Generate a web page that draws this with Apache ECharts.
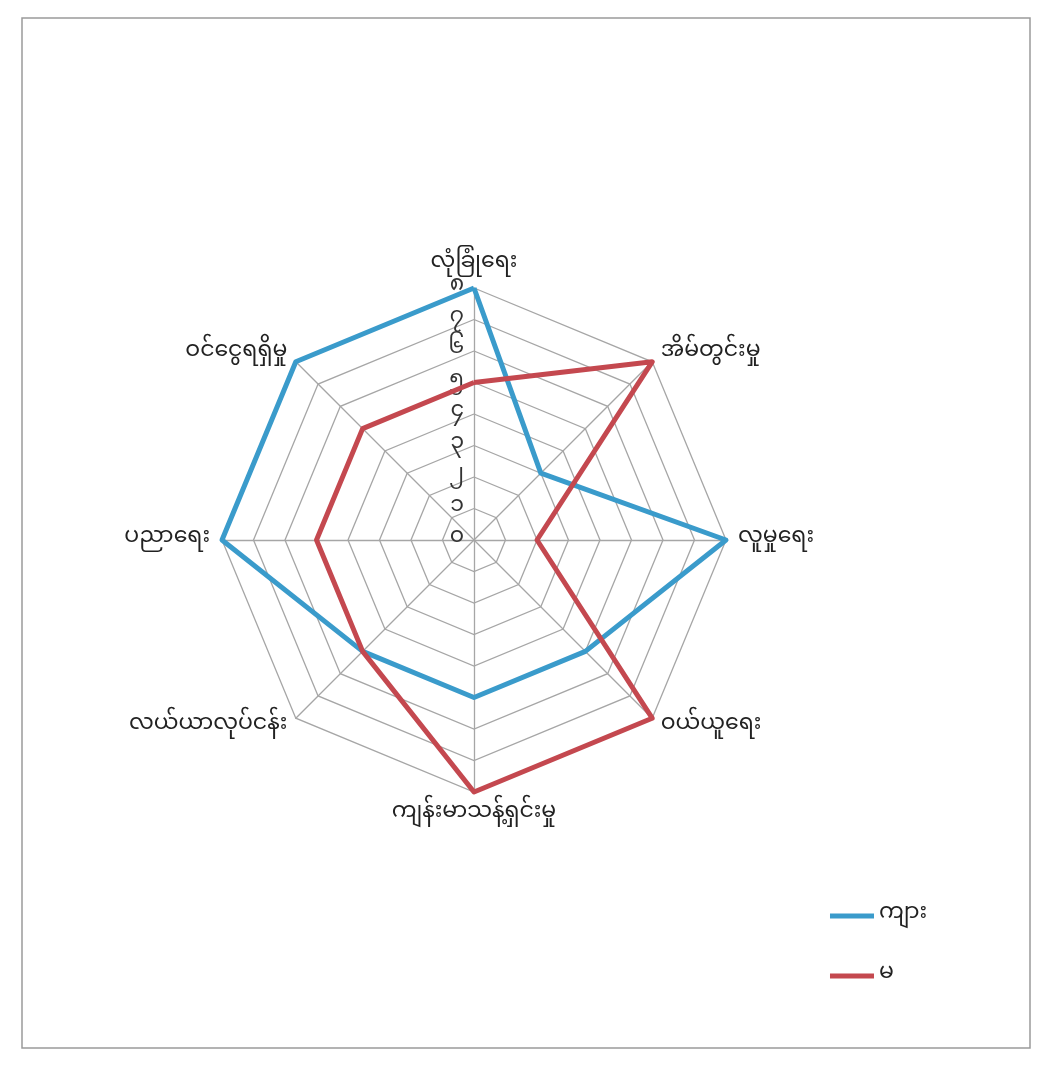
<!DOCTYPE html>
<html>
<head>
<meta charset="utf-8">
<script src="https://cdn.jsdelivr.net/npm/echarts@6/dist/echarts.min.js"></script>
<style>
html,body{margin:0;padding:0;background:#fff;}
#chart{width:1052px;height:1076px;}
</style>
</head>
<body>
<div id="chart"></div>
<script>
// Indicators listed counterclockwise starting from the top
const categories = ['လုံခြုံရေး','ဝင်ငွေရရှိမှု','ပညာရေး','လယ်ယာလုပ်ငန်း','ကျန်းမာသန့်ရှင်းမှု','ဝယ်ယူရေး','လူမှုရေး','အိမ်တွင်းမှု'];
const maleValues = [8, 8, 8, 5, 5, 5, 8, 3];
const femaleValues = [5, 5, 5, 5, 8, 8, 2, 8];
const seriesNames = ['ကျား','မ'];
const tickLabels = ['၀','၁','၂','၃','၄','၅','၆','၇','၈'];
const maxValue = 8;

const FONT = '"Noto Sans Myanmar","Padauk","Myanmar Text","Noto Sans",sans-serif';
const chart = echarts.init(document.getElementById('chart'), null, {renderer:'canvas'});
const option = {
  backgroundColor:'#ffffff',
  textStyle:{fontFamily:FONT},
  graphic:[{
    type:'rect', shape:{x:22,y:18,width:1008,height:1030},
    style:{fill:'none',stroke:'#9a9a9a',lineWidth:1.5}, silent:true
  }],
  legend:{
    orient:'vertical', right:120, top:900, itemGap:40,
    icon:'rect', itemWidth:44, itemHeight:5, itemGap:38,
    textStyle:{fontSize:22,color:'#222',fontFamily:FONT},
    data:seriesNames
  },
  radar:{
    center:[474,540], radius:252, startAngle:90,
    splitNumber:8, shape:'polygon',
    axisName:{color:'#222',fontSize:22,fontFamily:FONT},
    nameGap:12,
    splitLine:{lineStyle:{color:'#a6a6a6',width:1.3}},
    splitArea:{show:false},
    axisLine:{lineStyle:{color:'#a6a6a6',width:1.3}},
    axisTick:{show:false},
    axisLabel:{show:false},
    indicator:categories.map((c,i)=>{
      const o = {name:c, max:maxValue, min:0};
      if(i===0){
        o.axisLabel = {show:true, color:'#333', fontSize:22, fontFamily:FONT, margin:10,
          formatter:(v)=>tickLabels[Math.round(v)]};
      }
      return o;
    })
  },
  series:[{
    type:'radar',
    symbol:'none',
    data:[
      {name:seriesNames[0], value:maleValues, lineStyle:{color:'#3a9bcb',width:5}, itemStyle:{color:'#3a9bcb'}},
      {name:seriesNames[1], value:femaleValues, lineStyle:{color:'#c4484f',width:5}, itemStyle:{color:'#c4484f'}}
    ]
  }]
};
chart.setOption(option);
</script>
</body>
</html>
